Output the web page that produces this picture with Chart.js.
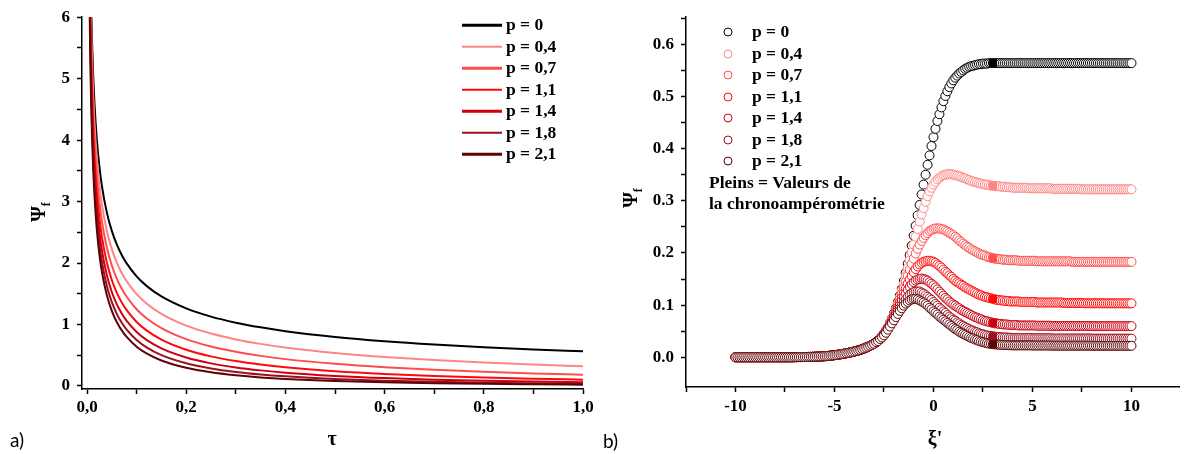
<!DOCTYPE html>
<html>
<head>
<meta charset="utf-8">
<script src="https://cdn.jsdelivr.net/npm/chart.js@4.4.0/dist/chart.umd.min.js"></script>
<style>
  body { margin:0; background:#fff; width:1185px; height:454px; position:relative; overflow:hidden; }
  canvas { position:absolute; top:0; }
  .t { position:absolute; font-family:'Liberation Serif', serif; font-weight:bold; font-size:17.5px; color:#000; white-space:nowrap; line-height:1; transform:translateY(-50%); }
  .lbl { position:absolute; font-family:Lato, 'Open Sans', sans-serif; font-size:19px; color:#000; line-height:1; }
  .ax { position:absolute; font-family:'Liberation Serif', serif; font-weight:bold; font-size:20px; color:#000; line-height:1; text-align:center; }
  .ln { position:absolute; height:2.5px; transform:translateY(-50%); }
  .dot { position:absolute; width:7px; height:7px; border-radius:50%; border:1.2px solid; background:#fff; transform:translate(-50%,-50%); }
</style>
</head>
<body>
<canvas id="cA" width="600" height="454" style="left:0"></canvas>
<canvas id="cB" width="585" height="454" style="left:600px"></canvas>
<div id="ov"></div>
<div class="lbl" style="left:10px; top:430px">a)</div>
<div class="lbl" style="left:603px; top:431px">b)</div>
<div class="ax" style="left:312px; top:428px; width:40px">τ</div>
<div class="ax" style="left:915px; top:428px; width:40px">ξ'</div>
<div class="ax" style="left:20px; top:200px; width:40px; transform:rotate(-90deg)">Ψ<sub style="font-size:12px">f</sub></div>
<div class="ax" style="left:612px; top:186px; width:40px; transform:rotate(-90deg)">Ψ<sub style="font-size:12px">f</sub></div>
<script>
// series names and colours (same for both panels)
const pLabels = ['p = 0', 'p = 0,4', 'p = 0,7', 'p = 1,1', 'p = 1,4', 'p = 1,8', 'p = 2,1'];
const colors = ['#000000', '#ff8585', '#ff4d4d', '#ff0a0a', '#cc0010', '#9a1020', '#5c0505'];

// ---- panel a) : psi_f vs tau ----
const tau = [0.004, 0.006, 0.008, 0.01, 0.0125, 0.015, 0.02, 0.025, 0.03, 0.04, 0.05, 0.06, 0.07, 0.08,
  0.1, 0.12, 0.15, 0.2, 0.25, 0.3, 0.35, 0.4, 0.5, 0.6, 0.7, 0.8, 0.9, 1.0];
const a_p0  = [8.921, 7.284, 6.308, 5.642, 5.046, 4.607, 3.989, 3.568, 3.257, 2.821, 2.523, 2.303, 2.132, 1.995, 1.784, 1.629, 1.457, 1.262, 1.128, 1.030, 0.954, 0.892, 0.798, 0.728, 0.674, 0.631, 0.595, 0.564];
const a_p04 = [8.611, 6.975, 6.000, 5.335, 4.740, 4.302, 3.686, 3.266, 2.956, 2.522, 2.226, 2.008, 1.838, 1.703, 1.494, 1.342, 1.173, 0.982, 0.853, 0.758, 0.685, 0.626, 0.537, 0.472, 0.422, 0.382, 0.350, 0.322];
const a_p07 = [8.307, 6.675, 5.703, 5.041, 4.449, 4.013, 3.401, 2.986, 2.680, 2.252, 1.961, 1.748, 1.582, 1.451, 1.249, 1.103, 0.942, 0.762, 0.642, 0.556, 0.490, 0.437, 0.360, 0.304, 0.263, 0.230, 0.204, 0.183];
const a_p11 = [8.012, 6.385, 5.419, 4.760, 4.173, 3.741, 3.137, 2.727, 2.427, 2.008, 1.725, 1.519, 1.360, 1.234, 1.042, 0.904, 0.754, 0.590, 0.482, 0.406, 0.349, 0.304, 0.240, 0.195, 0.163, 0.138, 0.119, 0.103];
const a_p14 = [7.743, 6.124, 5.163, 4.510, 3.928, 3.501, 2.906, 2.504, 2.210, 1.802, 1.529, 1.331, 1.179, 1.059, 0.879, 0.750, 0.612, 0.464, 0.368, 0.302, 0.254, 0.216, 0.164, 0.128, 0.103, 0.085, 0.071, 0.060];
const a_p18 = [7.497, 5.887, 4.933, 4.286, 3.710, 3.289, 2.704, 2.310, 2.023, 1.627, 1.364, 1.174, 1.030, 0.917, 0.748, 0.628, 0.502, 0.369, 0.285, 0.228, 0.187, 0.157, 0.114, 0.087, 0.068, 0.054, 0.044, 0.036];
const a_p21 = [7.268, 5.667, 4.722, 4.081, 3.513, 3.098, 2.523, 2.138, 1.858, 1.476, 1.223, 1.042, 0.905, 0.798, 0.640, 0.530, 0.415, 0.296, 0.223, 0.175, 0.140, 0.115, 0.081, 0.059, 0.045, 0.035, 0.028, 0.022];
const tauTicks = [0, 0.1, 0.2, 0.3, 0.4, 0.5, 0.6, 0.7, 0.8, 0.9, 1.0];
const tauTickLabels = ['0,0', '', '0,2', '', '0,4', '', '0,6', '', '0,8', '', '1,0'];
const psiATicks = [0, 0.5, 1, 1.5, 2, 2.5, 3, 3.5, 4, 4.5, 5, 5.5, 6];
const psiATickLabels = ['0', '', '1', '', '2', '', '3', '', '4', '', '5', '', '6'];

// ---- panel b) : psi_f vs xi' ----
const xi = [
  -10, -9.9, -9.8, -9.7, -9.6, -9.5, -9.4, -9.3, -9.2, -9.1,
  -9, -8.9, -8.8, -8.7, -8.6, -8.5, -8.4, -8.3, -8.2, -8.1,
  -8, -7.9, -7.8, -7.7, -7.6, -7.5, -7.4, -7.3, -7.2, -7.1,
  -7, -6.9, -6.8, -6.7, -6.6, -6.5, -6.4, -6.3, -6.2, -6.1,
  -6, -5.9, -5.8, -5.7, -5.6, -5.5, -5.4, -5.3, -5.2, -5.1,
  -5, -4.9, -4.8, -4.7, -4.6, -4.5, -4.4, -4.3, -4.2, -4.1,
  -4, -3.9, -3.8, -3.7, -3.6, -3.5, -3.4, -3.3, -3.2, -3.1,
  -3, -2.9, -2.8, -2.7, -2.6, -2.5, -2.4, -2.3, -2.2, -2.1,
  -2, -1.9, -1.8, -1.7, -1.6, -1.5, -1.4, -1.3, -1.2, -1.1,
  -1, -0.9, -0.8, -0.7, -0.6, -0.5, -0.4, -0.3, -0.2, -0.1,
  0, 0.1, 0.2, 0.3, 0.4, 0.5, 0.6, 0.7, 0.8, 0.9,
  1, 1.1, 1.2, 1.3, 1.4, 1.5, 1.6, 1.7, 1.8, 1.9,
  2, 2.1, 2.2, 2.3, 2.4, 2.5, 2.6, 2.7, 2.8, 2.9,
  3, 3.1, 3.2, 3.3, 3.4, 3.5, 3.6, 3.7, 3.8, 3.9,
  4, 4.1, 4.2, 4.3, 4.4, 4.5, 4.6, 4.7, 4.8, 4.9,
  5, 5.1, 5.2, 5.3, 5.4, 5.5, 5.6, 5.7, 5.8, 5.9,
  6, 6.1, 6.2, 6.3, 6.4, 6.5, 6.6, 6.7, 6.8, 6.9,
  7, 7.1, 7.2, 7.3, 7.4, 7.5, 7.6, 7.7, 7.8, 7.9,
  8, 8.1, 8.2, 8.3, 8.4, 8.5, 8.6, 8.7, 8.8, 8.9,
  9, 9.1, 9.2, 9.3, 9.4, 9.5, 9.6, 9.7, 9.8, 9.9,
  10];
// foot of the wave (xi' from -10 to -3), common to all p
const foot = [
  0, 0, 0, 0, 0, 0, 0, 0, 0, 0,
  0, 0, 0, 0, 0, 0, 0, 0, 0, 0,
  0, 0, 0, 0, 0, 0, 0, 0, 0, 0,
  0.0002, 0.0002, 0.0003, 0.0003, 0.0004, 0.0005, 0.0006, 0.0007, 0.0008, 0.0009,
  0.001, 0.0012, 0.0013, 0.0015, 0.0017, 0.002, 0.0023, 0.0027, 0.0031, 0.0035,
  0.004, 0.0045, 0.0051, 0.0057, 0.0063, 0.007, 0.0077, 0.0084, 0.0092, 0.0101,
  0.011, 0.012, 0.0131, 0.0143, 0.0156, 0.017, 0.0186, 0.0203, 0.0221, 0.024,
  0.026];
// xi' from -2.9 to 3.0 then tail 3.1 .. 10
const b_p0 = [...foot,
  0.029, 0.032, 0.036, 0.041, 0.046, 0.052, 0.058, 0.066, 0.074, 0.084,
  0.094, 0.106, 0.118, 0.131, 0.146, 0.162, 0.179, 0.196, 0.214, 0.233,
  0.252, 0.272, 0.292, 0.312, 0.331, 0.350, 0.369, 0.387, 0.405, 0.422,
  0.438, 0.453, 0.466, 0.479, 0.491, 0.501, 0.510, 0.518, 0.525, 0.531,
  0.536, 0.540, 0.544, 0.547, 0.550, 0.553, 0.555, 0.557, 0.558, 0.559,
  0.560, 0.561, 0.562, 0.562, 0.563, 0.563, 0.563, 0.564, 0.564, 0.564,
  0.564, 0.564, 0.564, 0.564, 0.564, 0.564, 0.564, 0.564, 0.564, 0.564,
  0.564, 0.564, 0.564, 0.564, 0.564, 0.564, 0.564, 0.564, 0.564, 0.564,
  0.564, 0.564, 0.564, 0.564, 0.564, 0.564, 0.564, 0.564, 0.564, 0.564,
  0.564, 0.564, 0.564, 0.564, 0.564, 0.564, 0.564, 0.564, 0.564, 0.564,
  0.564, 0.564, 0.564, 0.564, 0.564, 0.564, 0.564, 0.564, 0.564, 0.564,
  0.564, 0.564, 0.564, 0.564, 0.564, 0.564, 0.564, 0.564, 0.564, 0.564,
  0.564, 0.564, 0.564, 0.564, 0.564, 0.564, 0.564, 0.564, 0.564, 0.564];
const b_p04 = [...foot,
  0.029, 0.032, 0.036, 0.040, 0.045, 0.051, 0.057, 0.065, 0.073, 0.082,
  0.092, 0.103, 0.115, 0.128, 0.141, 0.156, 0.171, 0.186, 0.201, 0.216,
  0.231, 0.246, 0.260, 0.274, 0.286, 0.298, 0.309, 0.318, 0.325, 0.331,
  0.336, 0.341, 0.344, 0.347, 0.349, 0.350, 0.351, 0.351, 0.351, 0.350,
  0.349, 0.348, 0.347, 0.346, 0.344, 0.343, 0.341, 0.340, 0.338, 0.337,
  0.336, 0.335, 0.334, 0.333, 0.332, 0.331, 0.331, 0.330, 0.329, 0.329,
  0.328, 0.328, 0.328, 0.327, 0.327, 0.327, 0.326, 0.326, 0.326,
  0.325, 0.325, 0.325, 0.325, 0.325, 0.325, 0.325, 0.325, 0.324, 0.324,
  0.324, 0.324, 0.324, 0.324, 0.324, 0.324, 0.324, 0.324, 0.324, 0.324,
  0.323, 0.323, 0.323, 0.323, 0.323, 0.323, 0.323, 0.323, 0.323, 0.323,
  0.323, 0.323, 0.323, 0.323, 0.323, 0.322, 0.322, 0.322, 0.322, 0.322,
  0.322, 0.322, 0.322, 0.322, 0.322, 0.322, 0.322, 0.322, 0.322, 0.322,
  0.322, 0.322, 0.322, 0.322, 0.322, 0.322, 0.322, 0.322, 0.322, 0.322, 0.322];
const b_p07 = [...foot,
  0.029, 0.032, 0.035, 0.039, 0.044, 0.050, 0.056, 0.064, 0.072, 0.080,
  0.090, 0.100, 0.111, 0.122, 0.133, 0.145, 0.156, 0.168, 0.179, 0.189,
  0.199, 0.208, 0.216, 0.223, 0.229, 0.234, 0.238, 0.242, 0.244, 0.246,
  0.247, 0.247, 0.247, 0.246, 0.245, 0.243, 0.241, 0.239, 0.236, 0.234,
  0.231, 0.228, 0.224, 0.221, 0.218, 0.215, 0.212, 0.210, 0.207, 0.205,
  0.203, 0.201, 0.199, 0.197, 0.196, 0.195, 0.193, 0.192, 0.191, 0.190,
  0.189, 0.189, 0.188, 0.188, 0.187, 0.187, 0.187, 0.186, 0.186,
  0.186, 0.186, 0.186, 0.185, 0.185, 0.185, 0.185, 0.185, 0.185, 0.185,
  0.185, 0.185, 0.184, 0.184, 0.184, 0.184, 0.184, 0.184, 0.184, 0.184,
  0.184, 0.184, 0.184, 0.184, 0.184, 0.184, 0.184, 0.184, 0.184, 0.184,
  0.183, 0.183, 0.183, 0.183, 0.183, 0.183, 0.183, 0.183, 0.183, 0.183,
  0.183, 0.183, 0.183, 0.183, 0.183, 0.183, 0.183, 0.183, 0.183, 0.183,
  0.183, 0.183, 0.183, 0.183, 0.183, 0.183, 0.183, 0.183, 0.183, 0.183, 0.183];
const b_p11 = [...foot,
  0.029, 0.032, 0.035, 0.039, 0.044, 0.049, 0.056, 0.063, 0.070, 0.078,
  0.087, 0.096, 0.105, 0.114, 0.123, 0.132, 0.141, 0.149, 0.156, 0.163,
  0.169, 0.174, 0.178, 0.181, 0.183, 0.184, 0.185, 0.185, 0.184, 0.183,
  0.181, 0.178, 0.175, 0.172, 0.168, 0.164, 0.161, 0.157, 0.154, 0.150,
  0.147, 0.144, 0.142, 0.139, 0.137, 0.134, 0.132, 0.130, 0.128, 0.126,
  0.124, 0.122, 0.120, 0.119, 0.117, 0.116, 0.115, 0.114, 0.113, 0.112,
  0.111, 0.110, 0.110, 0.109, 0.109, 0.108, 0.108, 0.108, 0.107,
  0.107, 0.107, 0.107, 0.107, 0.106, 0.106, 0.106, 0.106, 0.106, 0.106,
  0.106, 0.106, 0.105, 0.105, 0.105, 0.105, 0.105, 0.105, 0.105, 0.105,
  0.105, 0.105, 0.105, 0.105, 0.105, 0.105, 0.104, 0.104, 0.104, 0.104,
  0.104, 0.104, 0.104, 0.104, 0.104, 0.104, 0.1035, 0.1035, 0.1035, 0.1035,
  0.1035, 0.1035, 0.1035, 0.1035, 0.1035, 0.1035, 0.1034, 0.1034, 0.1034, 0.1034,
  0.1034, 0.1034, 0.1034, 0.1034, 0.1034, 0.1034, 0.1034, 0.1034, 0.1034, 0.1034, 0.1034];
const b_p14 = [...foot,
  0.029, 0.032, 0.035, 0.039, 0.043, 0.049, 0.055, 0.061, 0.068, 0.076,
  0.084, 0.092, 0.100, 0.108, 0.115, 0.122, 0.129, 0.135, 0.140, 0.144,
  0.147, 0.149, 0.150, 0.151, 0.150, 0.149, 0.147, 0.144, 0.141, 0.138,
  0.134, 0.130, 0.126, 0.122, 0.118, 0.114, 0.111, 0.107, 0.104, 0.101,
  0.099, 0.096, 0.094, 0.091, 0.089, 0.087, 0.085, 0.083, 0.081, 0.079,
  0.077, 0.076, 0.074, 0.073, 0.071, 0.070, 0.069, 0.068, 0.067, 0.066,
  0.065, 0.065, 0.064, 0.064, 0.063, 0.063, 0.063, 0.062, 0.062,
  0.062, 0.062, 0.062, 0.061, 0.061, 0.061, 0.061, 0.061, 0.061, 0.061,
  0.061, 0.061, 0.0605, 0.0605, 0.0605, 0.0605, 0.0605, 0.0605, 0.0605, 0.0605,
  0.060, 0.060, 0.060, 0.060, 0.060, 0.060, 0.060, 0.060, 0.060, 0.060,
  0.060, 0.060, 0.060, 0.060, 0.060, 0.060, 0.060, 0.060, 0.060, 0.060,
  0.0597, 0.0597, 0.0597, 0.0597, 0.0597, 0.0597, 0.0597, 0.0597, 0.0597, 0.0597,
  0.0597, 0.0597, 0.0597, 0.0597, 0.0597, 0.0597, 0.0597, 0.0597, 0.0597, 0.0597, 0.0597];
const b_p18 = [...foot,
  0.029, 0.032, 0.035, 0.039, 0.043, 0.048, 0.054, 0.060, 0.067, 0.074,
  0.081, 0.088, 0.094, 0.100, 0.106, 0.111, 0.116, 0.120, 0.123, 0.125,
  0.126, 0.126, 0.126, 0.124, 0.122, 0.119, 0.116, 0.113, 0.110, 0.106,
  0.102, 0.099, 0.095, 0.092, 0.088, 0.085, 0.081, 0.078, 0.075, 0.072,
  0.070, 0.067, 0.065, 0.062, 0.060, 0.058, 0.056, 0.054, 0.052, 0.051,
  0.049, 0.048, 0.046, 0.045, 0.044, 0.043, 0.042, 0.041, 0.041, 0.040,
  0.0395, 0.039, 0.039, 0.0385, 0.038, 0.038, 0.038, 0.0375, 0.0375,
  0.037, 0.037, 0.037, 0.037, 0.037, 0.037, 0.037, 0.037, 0.037, 0.037,
  0.0365, 0.0365, 0.0365, 0.0365, 0.0365, 0.0365, 0.0365, 0.0365, 0.0365, 0.0365,
  0.036, 0.036, 0.036, 0.036, 0.036, 0.036, 0.036, 0.036, 0.036, 0.036,
  0.036, 0.036, 0.036, 0.036, 0.036, 0.036, 0.036, 0.036, 0.036, 0.036,
  0.0357, 0.0357, 0.0357, 0.0357, 0.0357, 0.0357, 0.0357, 0.0357, 0.0357, 0.0357,
  0.0357, 0.0357, 0.0357, 0.0357, 0.0357, 0.0357, 0.0357, 0.0357, 0.0357, 0.0357, 0.0357];
const b_p21 = [...foot,
  0.029, 0.031, 0.035, 0.038, 0.042, 0.047, 0.053, 0.059, 0.065, 0.071,
  0.077, 0.083, 0.089, 0.094, 0.099, 0.103, 0.106, 0.109, 0.111, 0.112,
  0.112, 0.111, 0.109, 0.107, 0.105, 0.102, 0.099, 0.095, 0.092, 0.088,
  0.085, 0.082, 0.078, 0.075, 0.072, 0.069, 0.066, 0.063, 0.060, 0.057,
  0.054, 0.052, 0.049, 0.047, 0.045, 0.043, 0.041, 0.039, 0.037, 0.036,
  0.034, 0.033, 0.031, 0.030, 0.029, 0.028, 0.027, 0.026, 0.026, 0.025,
  0.0247, 0.0244, 0.0241, 0.0238, 0.0236, 0.0234, 0.0232, 0.0231, 0.023,
  0.0228, 0.0228, 0.0228, 0.0228, 0.0228, 0.0228, 0.0228, 0.0228, 0.0228, 0.0228,
  0.0225, 0.0225, 0.0225, 0.0225, 0.0225, 0.0225, 0.0225, 0.0225, 0.0225, 0.0225,
  0.0222, 0.0222, 0.0222, 0.0222, 0.0222, 0.0222, 0.0222, 0.0222, 0.0222, 0.0222,
  0.0222, 0.0222, 0.0222, 0.0222, 0.0222, 0.0222, 0.0222, 0.0222, 0.0222, 0.0222,
  0.022, 0.022, 0.022, 0.022, 0.022, 0.022, 0.022, 0.022, 0.022, 0.022,
  0.022, 0.022, 0.022, 0.022, 0.022, 0.022, 0.022, 0.022, 0.022, 0.022, 0.022];
// filled markers: chronoamperometry values, placed at xi' = 3
const chronoXi = 3;
const chronoVals = [0.564, 0.329, 0.190, 0.112, 0.066, 0.040, 0.025];
const xiTicks = [-12.5, -10, -7.5, -5, -2.5, 0, 2.5, 5, 7.5, 10];
const xiTickLabels = ['', '-10', '', '-5', '', '0', '', '5', '', '10'];
const psiBTicks = [0, 0.05, 0.1, 0.15, 0.2, 0.25, 0.3, 0.35, 0.4, 0.45, 0.5, 0.55, 0.6, 0.65];
const psiBTickLabels = ['0.0', '', '0.1', '', '0.2', '', '0.3', '', '0.4', '', '0.5', '', '0.6', ''];

const seriesA = [a_p0, a_p04, a_p07, a_p11, a_p14, a_p18, a_p21];
const seriesB = [b_p0, b_p04, b_p07, b_p11, b_p14, b_p18, b_p21];

const tickFont = { family: 'Liberation Serif', weight: 'bold', size: 17 };
function axisStyle(extra) {
  return Object.assign({
    type: 'linear',
    border: { color: '#000', width: 1.5 },
    grid: { drawOnChartArea: false, tickLength: 5, tickColor: '#000', tickWidth: 1.5 },
  }, extra);
}

// panel a
new Chart(document.getElementById('cA'), {
  type: 'line',
  data: {
    datasets: seriesA.map((s, i) => ({
      label: pLabels[i],
      data: tau.map((t, j) => ({ x: t, y: s[j] })),
      borderColor: colors[i],
      borderWidth: 2,
      pointRadius: 0,
      cubicInterpolationMode: 'monotone',
      fill: false,
      order: 6 - i
    }))
  },
  options: {
    responsive: false, animation: false,
    layout: { padding: { top: 16, right: 17, left: 0, bottom: 0 } },
    plugins: { legend: { display: false }, tooltip: { enabled: false } },
    scales: {
      x: axisStyle({
        min: -0.0101, max: 1,
        afterBuildTicks: s => { s.ticks = tauTicks.map(v => ({ value: v })); },
        afterFit: s => { s.height = 65; },
        ticks: { color: '#000', font: tickFont, padding: 3, maxRotation: 0, autoSkip: false,
                 callback: (v, i) => tauTickLabels[i] }
      }),
      y: axisStyle({
        min: -0.049, max: 6,
        afterBuildTicks: s => { s.ticks = psiATicks.map(v => ({ value: v })); },
        afterFit: s => { s.width = 82; },
        ticks: { color: '#000', font: tickFont, padding: 7, autoSkip: false,
                 callback: (v, i) => psiATickLabels[i] }
      })
    }
  }
});

// panel b
const dsB = seriesB.map((s, i) => ({
  label: pLabels[i],
  data: xi.map((x, j) => ({ x: x, y: s[j] })),
  borderColor: colors[i],
  backgroundColor: '#ffffff',
  pointRadius: 4.5,
  pointBorderWidth: 1,
  showLine: false,
  order: 6 - i
}));
dsB.push({
  label: 'chrono',
  data: chronoVals.map(v => ({ x: chronoXi, y: v })),
  pointStyle: 'rect',
  pointBackgroundColor: colors,
  pointBorderColor: colors,
  pointRadius: 5,
  pointBorderWidth: 1,
  showLine: false,
  order: -1
});
new Chart(document.getElementById('cB'), {
  type: 'scatter',
  data: { datasets: dsB },
  options: {
    responsive: false, animation: false,
    layout: { padding: { top: 10, right: 0, left: 0, bottom: 0 } },
    plugins: { legend: { display: false }, tooltip: { enabled: false } },
    scales: {
      x: axisStyle({
        min: -12.5, max: 12.4,
        afterBuildTicks: s => { s.ticks = xiTicks.map(v => ({ value: v })); },
        afterFit: s => { s.height = 67; },
        ticks: { color: '#000', font: tickFont, padding: 4, maxRotation: 0, autoSkip: false,
                 callback: (v, i) => xiTickLabels[i] }
      }),
      y: axisStyle({
        min: -0.057, max: 0.652,
        afterBuildTicks: s => { s.ticks = psiBTicks.map(v => ({ value: v })); },
        afterFit: s => { s.width = 86; },
        ticks: { color: '#000', font: tickFont, padding: 7, autoSkip: false,
                 callback: (v, i) => psiBTickLabels[i] }
      })
    }
  }
});

// legends (HTML text)
const ov = document.getElementById('ov');
pLabels.forEach((l, i) => {
  const ya = 25 + i * 21.5;
  ov.insertAdjacentHTML('beforeend',
    `<div class="ln" style="left:462px; top:${ya}px; width:40px; background:${colors[i]}"></div>` +
    `<div class="t" style="left:506px; top:${ya}px">${l}</div>`);
  const yb = 32 + i * 21.5;
  ov.insertAdjacentHTML('beforeend',
    `<div class="dot" style="left:728px; top:${yb}px; border-color:${colors[i]}"></div>` +
    `<div class="t" style="left:752px; top:${yb}px">${l}</div>`);
});
ov.insertAdjacentHTML('beforeend',
  '<div class="t" style="left:709px; top:183px">Pleins = Valeurs de</div>' +
  '<div class="t" style="left:709px; top:204px">la chronoampérométrie</div>');
</script>
</body>
</html>
